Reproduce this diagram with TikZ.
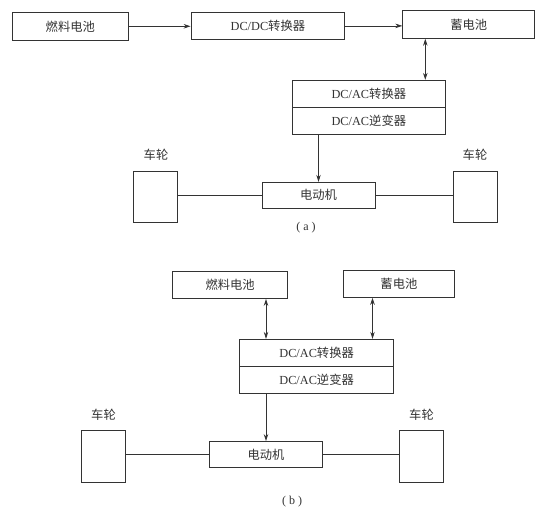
\documentclass[tikz,border=0pt]{standalone}
\usepackage{fontspec}
\setmainfont{Liberation Serif}
\newfontfamily\cjk{Noto Sans CJK SC}
\usetikzlibrary{arrows.meta}
\definecolor{ink}{HTML}{333333}
\tikzset{
  x=1pt,y=-1pt,
  box/.style={draw=ink,line width=0.9pt,inner sep=0pt,text=ink,font=\fontsize{12.3}{14}\selectfont},
  wheel/.style={draw=ink,line width=0.9pt,inner sep=0pt,minimum width=44pt,minimum height=51.5pt},
  lbl/.style={inner sep=0pt,text=ink,font=\fontsize{12.3}{14}\selectfont},
  figcap/.style={inner sep=0pt,text=ink,font=\fontsize{12}{14}\selectfont},
  conn/.style={draw=ink,line width=0.8pt},
  arr/.style={conn,-{Stealth[length=7pt,width=4.5pt]}},
  darr/.style={conn,{Stealth[length=7pt,width=4.5pt]}-{Stealth[length=7pt,width=4.5pt]}}
}
\begin{document}
\begin{tikzpicture}
\useasboundingbox (0,0) rectangle (543,514);
% ---------- (a) ----------
\node[box,minimum width=115.3pt,minimum height=27.3pt] (fa) at (70.3,26.3) {\cjk 燃料电池};
\node[box,minimum width=153.7pt,minimum height=26.3pt] (dcdc) at (267.9,25.9) {DC/DC\cjk 转换器};
\node[box,minimum width=132pt,minimum height=27.6pt] (bata) at (468.8,24.5) {\cjk 蓄电池};
\node[box,minimum width=153.7pt,minimum height=27.4pt] (dcaca1) at (368.85,94) {DC/AC\cjk 转换器};
\node[box,minimum width=153.7pt,minimum height=26.6pt] (dcaca2) at (368.85,121) {DC/AC\cjk 逆变器};
\node[box,minimum width=113pt,minimum height=26pt] (mota) at (318.5,195.3) {\cjk 电动机};
\node[wheel] (wla) at (155.7,197) {};
\node[wheel] (wra) at (475.5,197) {};
\node[lbl] (lla) at (156,155) {\cjk 车轮};
\node[lbl] (lra) at (475,155) {\cjk 车轮};
\node[figcap] (capa) at (306,228) {( a )};
\coordinate (xa) at (425.3,0);
\draw[arr] (fa.east) -- (dcdc.west |- fa.east);
\draw[arr] (dcdc.east) -- (bata.west |- dcdc.east);
\draw[darr] (bata.south -| xa) -- (dcaca1.north -| xa);
\draw[arr] (mota.north |- dcaca2.south) -- (mota.north);
\draw[conn] (mota.west) -- (wla.east |- mota.west);
\draw[conn] (mota.east) -- (wra.west |- mota.east);
% ---------- (b) ----------
\node[box,minimum width=115.2pt,minimum height=27.5pt] (fb) at (230.1,284.75) {\cjk 燃料电池};
\node[box,minimum width=111.2pt,minimum height=27.3pt] (batb) at (398.9,283.65) {\cjk 蓄电池};
\node[box,minimum width=154.3pt,minimum height=27.4pt] (dcacb1) at (316.65,353) {DC/AC\cjk 转换器};
\node[box,minimum width=154.3pt,minimum height=26.6pt] (dcacb2) at (316.65,380) {DC/AC\cjk 逆变器};
\node[box,minimum width=113pt,minimum height=25.8pt] (motb) at (266,454.4) {\cjk 电动机};
\node[wheel,minimum width=44.3pt,minimum height=51.7pt] (wlb) at (103.15,456.15) {};
\node[wheel,minimum width=44.3pt,minimum height=51.7pt] (wrb) at (421.65,456.15) {};
\node[lbl] (llb) at (103.5,414.3) {\cjk 车轮};
\node[lbl] (lrb) at (421.5,414.3) {\cjk 车轮};
\node[figcap] (capb) at (292,502) {( b )};
\coordinate (xb1) at (266,0);
\coordinate (xb2) at (372.5,0);
\draw[darr] (fb.south -| xb1) -- (dcacb1.north -| xb1);
\draw[darr] (batb.south -| xb2) -- (dcacb1.north -| xb2);
\draw[arr] (motb.north |- dcacb2.south) -- (motb.north);
\draw[conn] (motb.west) -- (wlb.east |- motb.west);
\draw[conn] (motb.east) -- (wrb.west |- motb.east);
\end{tikzpicture}
\end{document}
